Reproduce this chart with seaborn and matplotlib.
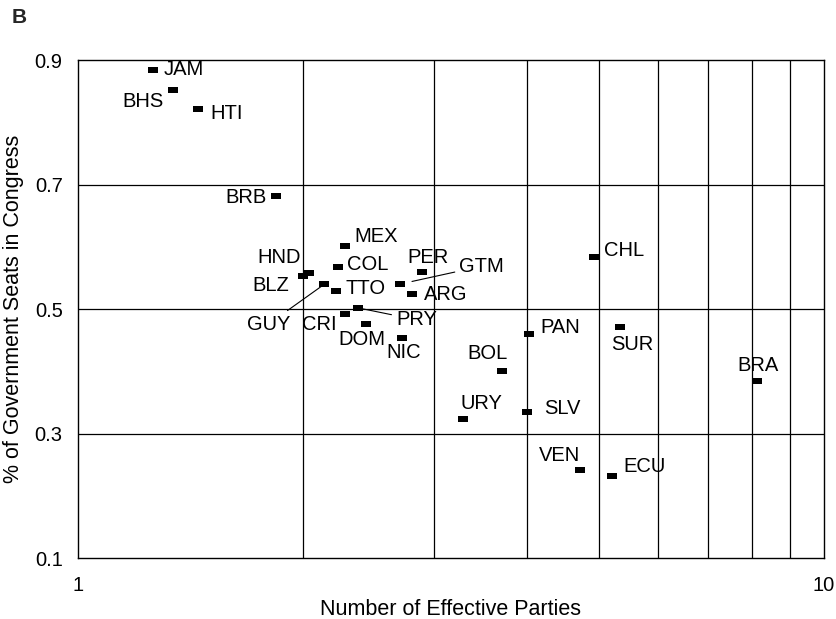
import numpy as np
import pandas as pd
import matplotlib
matplotlib.use("Agg")
import matplotlib.pyplot as plt
import seaborn as sns

# --- data ---
countries = ["JAM", "BHS", "HTI", "BRB", "HND", "BLZ", "MEX", "COL", "GUY", "TTO",
             "CRI", "PRY", "DOM", "NIC", "GTM", "ARG", "PER", "CHL", "PAN", "SUR",
             "BOL", "BRA", "URY", "SLV", "VEN", "ECU"]
eff_parties = [1.26, 1.34, 1.45, 1.84, 2.04, 2.00, 2.28, 2.23, 2.14, 2.22,
               2.28, 2.37, 2.43, 2.72, 2.70, 2.80, 2.89, 4.92, 4.02, 5.33,
               3.70, 8.13, 3.28, 4.00, 4.71, 5.20]
gov_seats = [0.884, 0.852, 0.822, 0.681, 0.558, 0.553, 0.602, 0.567, 0.540, 0.529,
             0.492, 0.502, 0.476, 0.454, 0.540, 0.524, 0.559, 0.583, 0.460, 0.471,
             0.401, 0.385, 0.324, 0.335, 0.242, 0.231]

y_ticks = [0.1, 0.3, 0.5, 0.7, 0.9]
x_grid = [2, 3, 4, 5, 6, 7, 8, 9]

df = pd.DataFrame({"country": countries, "parties": eff_parties, "seats": gov_seats})

# label offsets from the marker, in pixels (right, down)
label_off = {
    "JAM": (31, -1), "BHS": (-30, 12), "HTI": (28, 5), "BRB": (-30, 1),
    "MEX": (31, -9), "HND": (-30, -15), "COL": (30, -3), "BLZ": (-32, 9),
    "TTO": (29, -2), "CRI": (-26, 10), "DOM": (-4, 16), "NIC": (2, 15),
    "PER": (6, -15), "ARG": (34, 0), "CHL": (30, -7), "PAN": (32, -6),
    "SUR": (12, 17), "BOL": (-14, -17), "BRA": (1, -15), "URY": (19, -15),
    "SLV": (35, -3), "VEN": (-21, -14), "ECU": (32, -10),
}
# labels joined to their marker by a thin line (dx, dy, shrink at marker)
leader_off = {"GUY": (-56, 40, 3), "GTM": (82, -18, 9), "PRY": (59, 12, 4)}

sns.set_theme(style="white")
plt.rcParams["font.family"] = ["Liberation Sans", "DejaVu Sans"]

fig, ax = plt.subplots(figsize=(8.36, 6.19), dpi=100)
fig.subplots_adjust(left=0.0933, right=0.9856, top=0.903, bottom=0.0985)

ax.set_xscale("log")
ax.set_xlim(1, 10)
ax.set_ylim(0.1, 0.9)

for xv in x_grid:
    ax.axvline(xv, color="black", lw=0.9, zorder=1)
for yv in [0.3, 0.5, 0.7]:
    ax.axhline(yv, color="black", lw=0.9, zorder=1)

rect = [(-1, -0.5), (1, -0.5), (1, 0.5), (-1, 0.5)]
sns.scatterplot(data=df, x="parties", y="seats", marker=rect, s=60,
                color="black", edgecolor="black", linewidth=0, ax=ax, zorder=3)

fs = 14.5
px = 0.72
for _, r in df.iterrows():
    c = r["country"]
    if c in label_off:
        dx, dy = label_off[c]
        ax.annotate(c, (r["parties"], r["seats"]), xytext=(dx * px, -dy * px),
                    textcoords="offset points", ha="center", va="center",
                    fontsize=fs, color="black")
    else:
        dx, dy, sh = leader_off[c]
        ax.annotate(c, (r["parties"], r["seats"]), xytext=(dx * px, -dy * px),
                    textcoords="offset points", ha="center", va="center",
                    fontsize=fs, color="black",
                    arrowprops=dict(arrowstyle="-", color="black", lw=0.8,
                                    shrinkA=1, shrinkB=sh))

ax.set_xticks([1, 10])
ax.set_xticklabels(["1", "10"])
ax.xaxis.set_minor_locator(matplotlib.ticker.NullLocator())
ax.set_yticks(y_ticks)
ax.set_yticklabels([f"{v:.1f}" for v in y_ticks])
ax.tick_params(axis="both", length=0, labelsize=fs, colors="black")
ax.tick_params(axis="x", pad=13)
ax.tick_params(axis="y", pad=11)

for sp in ax.spines.values():
    sp.set_color("black")
    sp.set_linewidth(1.0)

ax.set_xlabel("Number of Effective Parties", fontsize=15.5, color="black", labelpad=3)
ax.set_ylabel("% of Government Seats in Congress", fontsize=15.5, color="black", labelpad=8)

fig.text(0.014, 0.972, "B", fontsize=15, fontweight="bold", ha="left", va="center")

fig.savefig("out.png", dpi=100)
